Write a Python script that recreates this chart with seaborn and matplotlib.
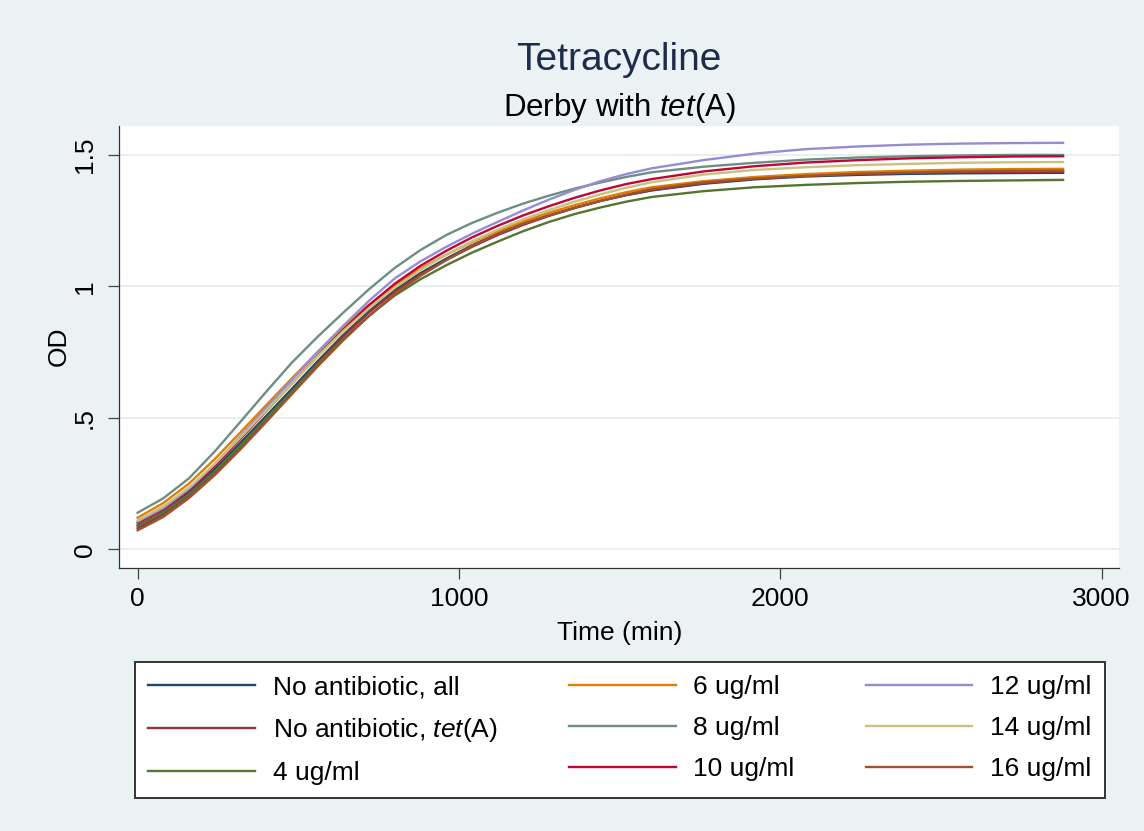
import numpy as np
import pandas as pd
import matplotlib
matplotlib.use("Agg")
import matplotlib.pyplot as plt
import seaborn as sns

# ---------------- data ----------------
time_min = [0, 80, 160, 240, 320, 400, 480, 560, 640, 720, 800, 880, 960, 1040,
            1120, 1200, 1280, 1360, 1440, 1520, 1600,
            1760, 1920, 2080, 2240, 2400, 2560, 2720, 2880]

od_no_ab_all = [0.090, 0.142, 0.215, 0.305, 0.405, 0.507, 0.610, 0.715, 0.815, 0.905,
                0.985, 1.050, 1.105, 1.156, 1.200, 1.238, 1.270, 1.299, 1.325, 1.347,
                1.365, 1.390, 1.407, 1.418, 1.424, 1.428, 1.430, 1.431, 1.432]
od_no_ab_tetA = [0.080, 0.132, 0.205, 0.292, 0.390, 0.493, 0.600, 0.708, 0.810, 0.901,
                 0.980, 1.045, 1.100, 1.150, 1.195, 1.234, 1.268, 1.298, 1.325, 1.347,
                 1.366, 1.392, 1.410, 1.421, 1.428, 1.432, 1.434, 1.435, 1.436]
od_4 = [0.090, 0.140, 0.210, 0.297, 0.395, 0.498, 0.600, 0.703, 0.800, 0.888,
        0.965, 1.027, 1.080, 1.128, 1.170, 1.210, 1.245, 1.275, 1.300, 1.322,
        1.340, 1.362, 1.377, 1.386, 1.393, 1.398, 1.401, 1.403, 1.405]
od_6 = [0.120, 0.176, 0.250, 0.343, 0.445, 0.548, 0.650, 0.750, 0.845, 0.930,
        1.005, 1.067, 1.120, 1.168, 1.210, 1.247, 1.280, 1.309, 1.335, 1.358,
        1.377, 1.400, 1.416, 1.427, 1.435, 1.440, 1.444, 1.446, 1.447]
od_8 = [0.139, 0.194, 0.270, 0.372, 0.485, 0.599, 0.710, 0.808, 0.900, 0.989,
        1.070, 1.138, 1.195, 1.241, 1.280, 1.315, 1.345, 1.372, 1.395, 1.416,
        1.434, 1.455, 1.470, 1.482, 1.490, 1.495, 1.498, 1.500, 1.500]
od_10 = [0.100, 0.152, 0.225, 0.317, 0.420, 0.526, 0.630, 0.735, 0.835, 0.928,
         1.010, 1.078, 1.135, 1.186, 1.230, 1.270, 1.305, 1.337, 1.365, 1.389,
         1.408, 1.437, 1.457, 1.471, 1.480, 1.487, 1.491, 1.494, 1.495]
od_12 = [0.105, 0.157, 0.230, 0.324, 0.430, 0.538, 0.645, 0.750, 0.850, 0.945,
         1.030, 1.095, 1.150, 1.200, 1.245, 1.289, 1.330, 1.367, 1.400, 1.427,
         1.449, 1.480, 1.505, 1.522, 1.532, 1.539, 1.543, 1.545, 1.546]
od_14 = [0.110, 0.163, 0.235, 0.325, 0.425, 0.528, 0.630, 0.733, 0.830, 0.917,
         0.995, 1.062, 1.120, 1.171, 1.215, 1.255, 1.290, 1.322, 1.350, 1.375,
         1.396, 1.425, 1.443, 1.453, 1.461, 1.466, 1.470, 1.472, 1.473]
od_16 = [0.072, 0.123, 0.195, 0.282, 0.380, 0.484, 0.590, 0.695, 0.795, 0.887,
         0.970, 1.040, 1.100, 1.154, 1.200, 1.238, 1.270, 1.299, 1.325, 1.349,
         1.370, 1.395, 1.410, 1.420, 1.428, 1.433, 1.437, 1.439, 1.440]

series_keys = ["no_all", "no_tetA", "c4", "c6", "c8", "c10", "c12", "c14", "c16"]
series_labels = ["No antibiotic, all", "No antibiotic, $\\it{tet}$(A)", "4 ug/ml",
                 "6 ug/ml", "8 ug/ml", "10 ug/ml", "12 ug/ml", "14 ug/ml", "16 ug/ml"]
series_values = [od_no_ab_all, od_no_ab_tetA, od_4, od_6, od_8, od_10, od_12, od_14, od_16]
series_colors = ["#1a476f", "#90353b", "#55752f", "#e37e00", "#6e8e84",
                 "#c10534", "#938dd2", "#cac27e", "#a0522d"]

x_ticks = [0, 1000, 2000, 3000]
y_ticks = [0, 0.5, 1, 1.5]
y_ticklabels = ["0", ".5", "1", "1.5"]

# ---------------- build long table ----------------
frames = []
for key, vals in zip(series_keys, series_values):
    frames.append(pd.DataFrame({"time": time_min, "od": vals, "series": key}))
df = pd.concat(frames, ignore_index=True)

# ---------------- style ----------------
bg = "#eaf2f3"
plt.rcParams["font.family"] = ["Liberation Sans", "DejaVu Sans"]
plt.rcParams["mathtext.fontset"] = "custom"
plt.rcParams["mathtext.rm"] = "Liberation Sans"
plt.rcParams["mathtext.it"] = "Liberation Sans:italic"

fig = plt.figure(figsize=(11.44, 8.31), dpi=100, facecolor=bg)
ax = fig.add_axes([0.1043, 0.3169, 0.8741, 0.5318])
ax.set_facecolor("white")

sns.lineplot(data=df, x="time", y="od", hue="series", hue_order=series_keys,
             palette=dict(zip(series_keys, series_colors)), estimator=None,
             sort=False, linewidth=1.7, legend=False, ax=ax)

ax.set_xlim(-57, 3055)
ax.set_ylim(-0.070, 1.611)

ax.set_xticks(x_ticks)
ax.set_xticklabels([str(v) for v in x_ticks])
ax.set_yticks(y_ticks)
ax.set_yticklabels(y_ticklabels, rotation=90, va="center")

ax.grid(axis="y", color="#e6eef0", linewidth=1.3)
ax.grid(axis="x", visible=False)
ax.set_axisbelow(True)

for side in ["top", "right"]:
    ax.spines[side].set_visible(False)
for side in ["left", "bottom"]:
    ax.spines[side].set_color("#333333")
    ax.spines[side].set_linewidth(0.9)

ax.tick_params(axis="both", direction="out", length=8, width=0.9, color="#444444",
               labelsize=19, labelcolor="black")
ax.tick_params(axis="y", pad=8)
ax.tick_params(axis="x", pad=6)

ax.set_xlabel("Time (min)", fontsize=19, labelpad=7)
ax.set_ylabel("OD", fontsize=19, labelpad=1.5)

# titles
xc = 0.1043 + 0.8741 / 2
fig.text(xc, 1 - 70 / 831, "Tetracycline", ha="center", va="baseline",
         fontsize=28, color="#1e2c4c")
fig.text(xc, 1 - 116 / 831, "Derby with $\\it{tet}$(A)", ha="center", va="baseline",
         fontsize=22.5, color="black")

# legend
handles = ax.get_lines()[:len(series_keys)]
box_x0 = 135 / 1144
box_x1 = 1105 / 1144
box_top = 1 - 662 / 831
box_bot = 1 - 795 / 831
leg = fig.legend(handles, series_labels, ncol=3, loc="upper left",
                 bbox_to_anchor=(box_x0, box_bot, box_x1 - box_x0, box_top - box_bot),
                 mode="expand", borderaxespad=0, fontsize=19, frameon=True,
                 fancybox=False, edgecolor="#333333", facecolor="white", framealpha=1,
                 handlelength=4.05, handletextpad=0.68, labelspacing=0.64,
                 borderpad=0.5, columnspacing=2.0)
leg.get_frame().set_linewidth(1.4)
for ln in leg.get_lines():
    ln.set_linewidth(1.7)

fig.savefig("out.png", dpi=100, facecolor=bg)
